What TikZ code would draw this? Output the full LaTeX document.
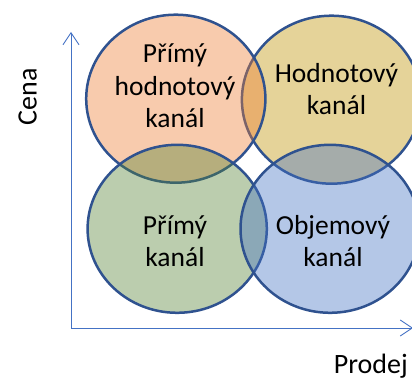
\documentclass[tikz,border=0pt]{standalone}
\usepackage{fontspec}
\setmainfont{Carlito}
\usetikzlibrary{arrows.meta}
\definecolor{ringblue}{HTML}{2F528F}
\definecolor{axisblue}{HTML}{4472C4}
\definecolor{fillorange}{HTML}{ED7D31}
\definecolor{fillgold}{HTML}{BF9000}
\definecolor{fillgreen}{HTML}{548235}
\definecolor{fillblue}{HTML}{4472C4}
\tikzset{
  ring/.style={draw=ringblue, line width=2.5pt, fill opacity=0.4},
  axis/.style={draw=axisblue, line width=0.9pt,
    -{Straight Barb[length=12pt,width=16pt,line width=0.9pt]}},
  label/.style={font=\fontsize{27.5}{32.5}\selectfont, align=center, anchor=base, inner sep=0pt},
  axislabel/.style={font=\fontsize{28}{33}\selectfont, inner sep=0pt}
}
\begin{document}
\begin{tikzpicture}[x=1pt, y=-1pt]
  \useasboundingbox (0,0) rectangle (412,379);
  \clip (0,0) rectangle (412,379);

  % axes
  \coordinate (origin) at (71,328);
  \coordinate (ytip) at (71,32);
  \coordinate (xtip) at (413,328);
  \draw[axis] (origin) -- (ytip);
  \draw[axis] (origin) -- (xtip);

  % four channel circles, drawn in stacking order
  \path[ring, fill=fillgold]   (331.5,99.7)  ellipse [x radius=89.6pt, y radius=84pt];
  \path[ring, fill=fillorange] (175.8,98.7)  ellipse [x radius=89.6pt, y radius=84pt];
  \path[ring, fill=fillgreen]  (177.2,228.8) ellipse [x radius=89.6pt, y radius=84pt];
  \path[ring, fill=fillblue]   (330.1,228.8) ellipse [x radius=89.6pt, y radius=84pt];

  % circle captions (anchored at the baseline of the last line)
  \node[label] (direct-value) at (175,127.7) {Přímý\\hodnotový\\kanál};
  \node[label] (value)        at (336.5,115) {Hodnotový\\kanál};
  \node[label] (direct)       at (175,266.7) {Přímý\\kanál};
  \node[label] (volume)       at (333,266.7) {Objemový\\kanál};

  % axis captions
  \node[axislabel, rotate=90, anchor=base] (price) at (36.7,96.7) {Cena};
  \node[axislabel, anchor=base] (sales) at (370.8,373.3) {Prodej};
\end{tikzpicture}
\end{document}
